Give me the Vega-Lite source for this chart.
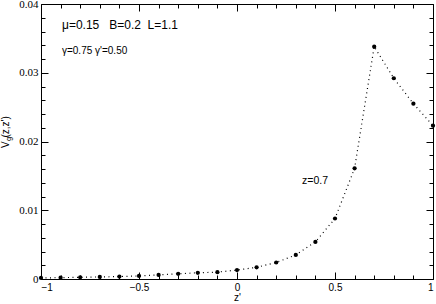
{
  "$schema": "https://vega.github.io/schema/vega-lite/v6.json",
  "width": 392,
  "height": 275,
  "autosize": {"type": "none"},
  "padding": {"left": 41, "top": 4, "right": 3, "bottom": 25},
  "background": "white",
  "config": {
    "view": {"stroke": "black", "strokeWidth": 1},
    "axis": {"grid": false, "domain": false, "tickColor": "black", "labelColor": "black", "titleColor": "black", "tickWidth": 1}
  },
  "datasets": {
    "pts": [
      {"zp": -1.0, "v": 0.00015},
      {"zp": -0.9, "v": 0.0002},
      {"zp": -0.8, "v": 0.00025},
      {"zp": -0.7, "v": 0.0003},
      {"zp": -0.6, "v": 0.00035},
      {"zp": -0.5, "v": 0.00045},
      {"zp": -0.4, "v": 0.0006},
      {"zp": -0.3, "v": 0.00075},
      {"zp": -0.2, "v": 0.0009},
      {"zp": -0.1, "v": 0.001},
      {"zp": 0.0, "v": 0.0013},
      {"zp": 0.1, "v": 0.0017},
      {"zp": 0.2, "v": 0.0024},
      {"zp": 0.3, "v": 0.0035},
      {"zp": 0.4, "v": 0.0054},
      {"zp": 0.5, "v": 0.0088},
      {"zp": 0.6, "v": 0.0161},
      {"zp": 0.7, "v": 0.0338},
      {"zp": 0.8, "v": 0.0292},
      {"zp": 0.9, "v": 0.0255},
      {"zp": 1.0, "v": 0.0223}
    ],
    "labels": [
      {"zp": -0.893, "v": 0.03695, "t": "μ=0.15\u00a0\u00a0\u00a0B=0.2\u00a0\u00a0L=1.1", "size": 12},
      {"zp": -0.893, "v": 0.03316, "t": "γ=0.75 γ'=0.50", "size": 10},
      {"zp": 0.332, "v": 0.01425, "t": "z=0.7", "size": 10.5}
    ],
    "ytitle": [
      {"zp": -1.163, "v": 0.01905, "t": "V", "size": 10},
      {"zp": -1.152, "v": 0.02007, "t": "g", "size": 7.5},
      {"zp": -1.163, "v": 0.02058, "t": "(z,z')", "size": 10}
    ]
  },
  "resolve": {"axis": {"x": "independent", "y": "independent"}},
  "layer": [
    {
      "data": {"name": "pts"},
      "mark": {"type": "line", "color": "black", "strokeWidth": 1.2, "strokeDash": [1, 3.5]},
      "encoding": {
        "x": {"field": "zp", "type": "quantitative", "scale": {"domain": [-1, 1], "nice": false},
          "axis": {"orient": "bottom", "values": [-1, -0.5, 0, 0.5, 1], "format": "~g", "tickSize": -7, "labelPadding": 10, "labelFont": "Liberation Sans", "labelFontSize": 10, "title": "z'", "titleFont": "Liberation Sans", "titleFontSize": 10, "titleFontWeight": "normal", "titlePadding": 0}},
        "y": {"field": "v", "type": "quantitative", "scale": {"domain": [0, 0.04], "nice": false},
          "axis": {"orient": "left", "values": [0, 0.01, 0.02, 0.03, 0.04], "format": ".2~f", "tickSize": -7, "labelPadding": 10, "labelFont": "Liberation Serif", "labelFontSize": 11, "title": null}}
      }
    },
    {
      "data": {"name": "pts"},
      "mark": {"type": "point", "filled": true, "color": "black", "size": 18, "opacity": 1},
      "encoding": {
        "x": {"field": "zp", "type": "quantitative",
          "axis": {"orient": "bottom", "values": [-0.9, -0.8, -0.7, -0.6, -0.4, -0.3, -0.2, -0.1, 0.1, 0.2, 0.3, 0.4, 0.6, 0.7, 0.8, 0.9], "labels": false, "tickSize": -4, "title": null}},
        "y": {"field": "v", "type": "quantitative",
          "axis": {"orient": "left", "values": [0.002, 0.004, 0.006, 0.008, 0.012, 0.014, 0.016, 0.018, 0.022, 0.024, 0.026, 0.028, 0.032, 0.034, 0.036, 0.038], "labels": false, "tickSize": -4, "title": null}}
      }
    },
    {
      "data": {"name": "pts"},
      "mark": {"type": "point", "opacity": 0},
      "encoding": {
        "x": {"field": "zp", "type": "quantitative",
          "axis": {"orient": "top", "values": [-1, -0.5, 0, 0.5, 1], "labels": false, "tickSize": -7, "title": null}},
        "y": {"field": "v", "type": "quantitative",
          "axis": {"orient": "right", "values": [0, 0.01, 0.02, 0.03, 0.04], "labels": false, "tickSize": -7, "title": null}}
      }
    },
    {
      "data": {"name": "pts"},
      "mark": {"type": "point", "opacity": 0},
      "encoding": {
        "x": {"field": "zp", "type": "quantitative",
          "axis": {"orient": "top", "values": [-0.9, -0.8, -0.7, -0.6, -0.4, -0.3, -0.2, -0.1, 0.1, 0.2, 0.3, 0.4, 0.6, 0.7, 0.8, 0.9], "labels": false, "tickSize": -4, "title": null}},
        "y": {"field": "v", "type": "quantitative",
          "axis": {"orient": "right", "values": [0.002, 0.004, 0.006, 0.008, 0.012, 0.014, 0.016, 0.018, 0.022, 0.024, 0.026, 0.028, 0.032, 0.034, 0.036, 0.038], "labels": false, "tickSize": -4, "title": null}}
      }
    },
    {
      "data": {"name": "labels"},
      "mark": {"type": "text", "align": "left", "baseline": "middle", "font": "Liberation Sans", "color": "black"},
      "encoding": {
        "x": {"field": "zp", "type": "quantitative", "axis": null},
        "y": {"field": "v", "type": "quantitative", "axis": null},
        "text": {"field": "t"},
        "size": {"field": "size", "type": "quantitative", "scale": null}
      }
    },
    {
      "data": {"name": "ytitle"},
      "mark": {"type": "text", "align": "left", "baseline": "alphabetic", "angle": 270, "font": "Liberation Sans", "color": "black", "clip": false},
      "encoding": {
        "x": {"field": "zp", "type": "quantitative", "axis": null},
        "y": {"field": "v", "type": "quantitative", "axis": null},
        "text": {"field": "t"},
        "size": {"field": "size", "type": "quantitative", "scale": null}
      }
    }
  ]
}
